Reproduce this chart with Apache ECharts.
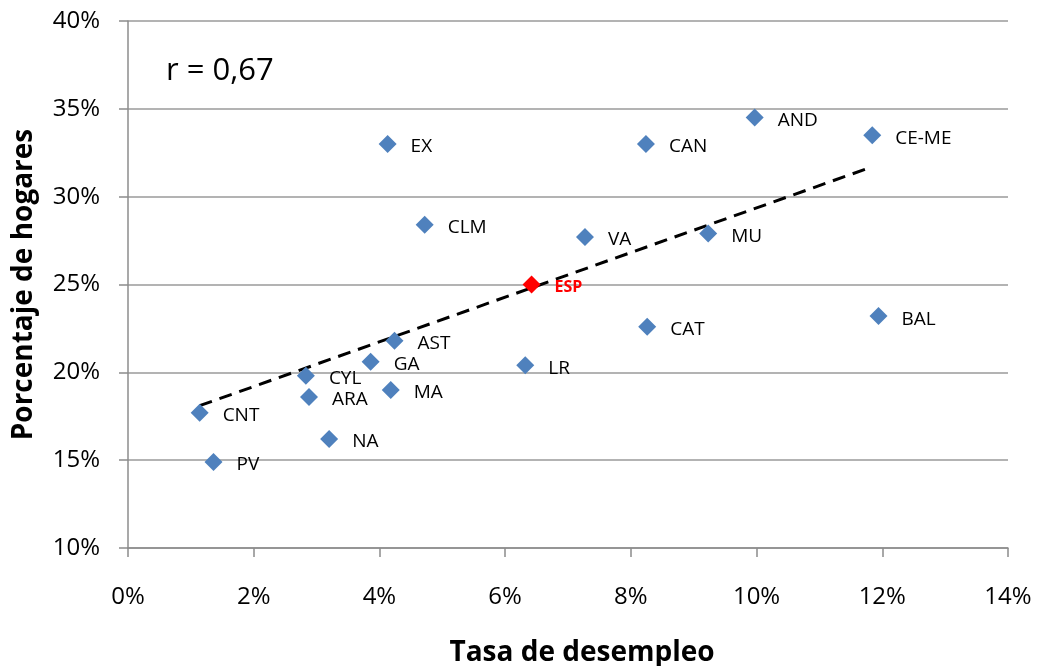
<!DOCTYPE html>
<html>
<head>
<meta charset="utf-8">
<script src="https://cdn.jsdelivr.net/npm/echarts@6/dist/echarts.min.js"></script>
<style>
html,body{margin:0;padding:0;background:#fff;}
#c{width:1041px;height:666px;}
</style>
</head>
<body>
<div id="c"></div>
<script>
// Regions (labels), unemployment rate (%) and share of households (%)
const regions = ["EX","CLM","AND","CAN","CE-ME","VA","MU","CAT","BAL","AST","GA","LR","CYL","ARA","MA","CNT","NA","PV"];
const unemployment = [4.13,4.72,9.97,8.24,11.84,7.27,9.23,8.26,11.94,4.24,3.86,6.32,2.83,2.88,4.18,1.14,3.20,1.36];
const households = [33.0,28.4,34.5,33.0,33.5,27.7,27.9,22.6,23.2,21.8,20.6,20.4,19.8,18.6,19.0,17.7,16.2,14.9];
// Spain total
const espLabel = "ESP";
const espPoint = [6.42, 25.0];
// Dashed trend line endpoints
const trendX = [1.14, 11.84];
const trendY = [18.1, 31.7];
// Axes
const xTicks = {min:0, max:14, interval:2};
const yTicks = {min:10, max:40, interval:5};
const rText = "r = 0,67";

const FONT = "Open Sans";
const chart = echarts.init(document.getElementById('c'), null, {renderer:'canvas'});
const pts = regions.map((r,i)=>({name:r, value:[unemployment[i], households[i]]}));
chart.setOption({
  animation:false,
  textStyle:{fontFamily:FONT},
  title:{text:rText, left:166, top:56, padding:0, textStyle:{fontFamily:FONT, fontSize:31, fontWeight:'normal', color:'#000'}},
  grid:{left:128, right:33, top:21, bottom:118, containLabel:false, outerBoundsMode:'none'},
  xAxis:{
    type:'value', min:xTicks.min, max:xTicks.max, interval:xTicks.interval,
    name:'Tasa de desempleo', nameLocation:'middle', nameGap:91,
    nameTextStyle:{fontFamily:FONT, fontSize:28, fontWeight:'bold', color:'#000', padding:[0,0,0,28]},
    axisLine:{show:true, lineStyle:{color:'#8c8c8c', width:1.5}},
    axisTick:{show:true, inside:false, length:9, lineStyle:{color:'#8c8c8c', width:1.5}},
    axisLabel:{formatter:'{value}%', fontFamily:FONT, fontSize:24, color:'#000', margin:37},
    splitLine:{show:false}
  },
  yAxis:{
    type:'value', min:yTicks.min, max:yTicks.max, interval:yTicks.interval,
    name:'Porcentaje de hogares', nameLocation:'middle', nameGap:90, nameRotate:90,
    nameTextStyle:{fontFamily:FONT, fontSize:28, fontWeight:'bold', color:'#000'},
    axisLine:{show:true, lineStyle:{color:'#8c8c8c', width:1.5}},
    axisTick:{show:true, inside:false, length:9, lineStyle:{color:'#8c8c8c', width:1.5}},
    axisLabel:{formatter:'{value}%', fontFamily:FONT, fontSize:24, color:'#000', margin:28},
    splitLine:{show:true, lineStyle:{color:'#9a9a9a', width:1.5}}
  },
  series:[
    {
      type:'line', data:[[trendX[0],trendY[0]],[trendX[1],trendY[1]]],
      showSymbol:false, symbol:'none', z:3,
      lineStyle:{color:'#000', width:3, type:[13,8]}
    },
    {
      type:'scatter', data:pts, symbol:'diamond', symbolSize:18, z:4,
      itemStyle:{color:'#4F81BD', opacity:1},
      label:{show:true, position:'right', distance:14, offset:[0,3], formatter:'{b}',
             fontFamily:FONT, fontSize:19, color:'#000'}
    },
    {
      type:'scatter', data:[{name:espLabel, value:espPoint}], symbol:'diamond', symbolSize:18, z:5,
      itemStyle:{color:'#FF0000', opacity:1},
      label:{show:true, position:'right', distance:14, offset:[0,3], formatter:'{b}',
             fontFamily:FONT, fontSize:16, fontWeight:'bold', color:'#FF0000'}
    }
  ]
});
</script>
</body>
</html>
